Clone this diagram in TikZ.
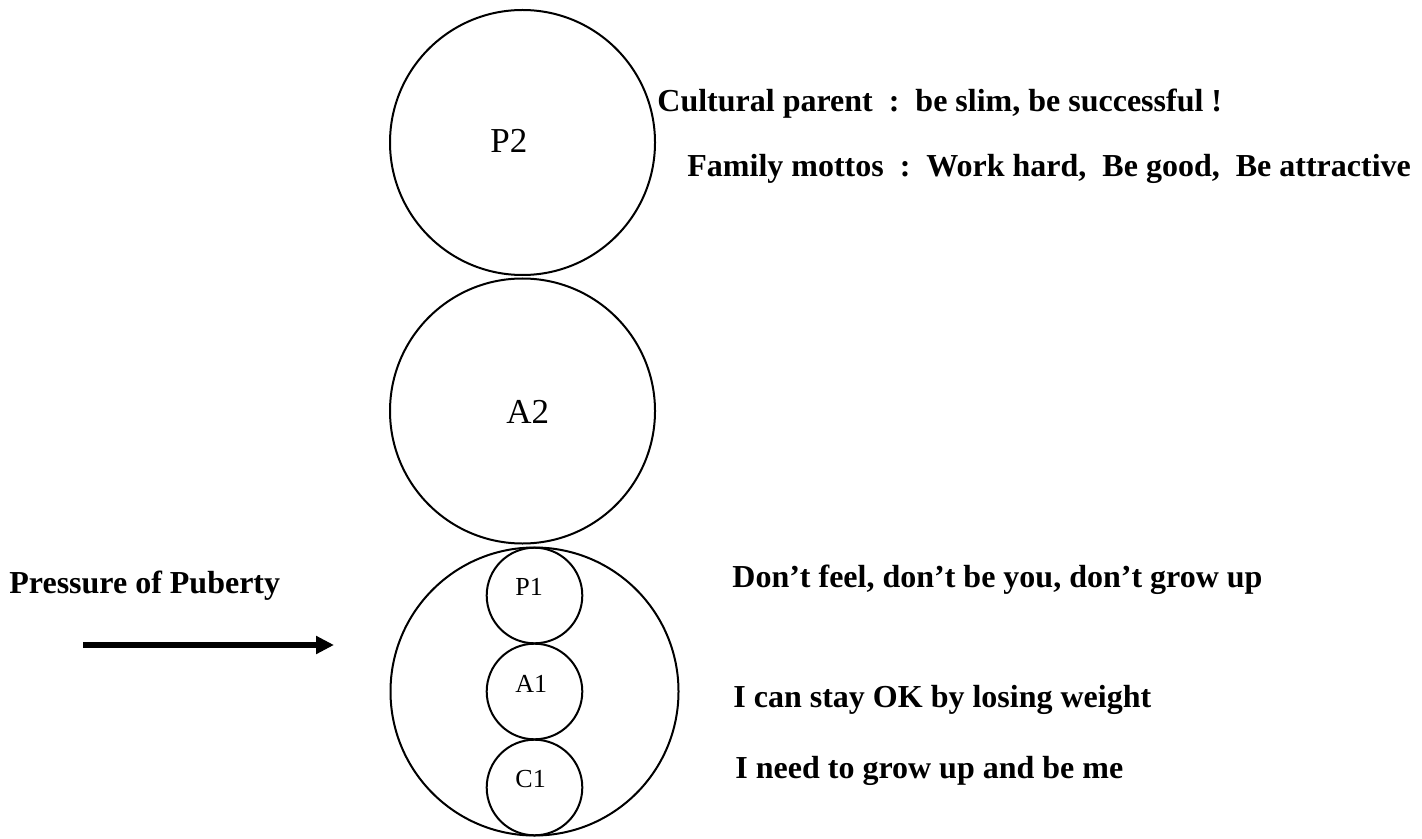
\documentclass[tikz,border=0pt]{standalone}
\usepackage{fontspec}
\setmainfont{Liberation Serif}
\usetikzlibrary{arrows.meta}
\begin{document}
\begin{tikzpicture}[x=0.5pt,y=-0.5pt,
  ring/.style={circle,draw,line width=1pt,inner sep=0pt},
  bigring/.style={ring,minimum size=132.5pt},
  outerring/.style={ring,minimum size=144pt},
  smallring/.style={ring,minimum size=47.8pt},
  txt/.style={inner sep=0pt,anchor=base west,font=\fontsize{16pt}{19pt}\selectfont\bfseries},
  biglbl/.style={inner sep=0pt,anchor=base west,font=\fontsize{17.5pt}{20pt}\selectfont},
  smalllbl/.style={inner sep=0pt,anchor=base west,font=\fontsize{13pt}{15pt}\selectfont},
  pusharrow/.style={line width=3pt,-{Triangle[length=9pt,width=8.6pt]}}
]
\useasboundingbox (0,0) rectangle (1422,839);

% circles
\node[bigring] (p2) at (522.5,142.5) {};
\node[bigring] (a2) at (522.5,411) {};
\node[outerring] (child) at (534.5,691.5) {};
\node[smallring] (p1) at (534.5,595.5) {};
\node[smallring] (a1) at (534.5,691.5) {};
\node[smallring] (c1) at (534.5,787.5) {};

% circle labels
\node[biglbl] (p2t) at (490,153) {P2};
\node[biglbl] (a2t) at (506,423) {A2};
\node[smalllbl] (p1t) at (515,595) {P1};
\node[smalllbl] (a1t) at (515,692) {A1};
\node[smalllbl] (c1t) at (515,787) {C1};

% texts
\node[txt] (cult) at (657,112) {Cultural parent\ \ :\ \ be slim, be successful !};
\node[txt] (fam) at (687,177) {Family mottos\ \ :\ \ Work hard,\ \ Be good,\ \ Be attractive};
\node[txt] (press) at (9,593) {Pressure of Puberty};
\node[txt] (dont) at (732,587) {Don’t feel, don’t be you, don’t grow up};
\node[txt] (stay) at (733,707) {I can stay OK by losing weight};
\node[txt] (need) at (735,778) {I need to grow up and be me};

% arrow
\coordinate (as) at (83,645);
\coordinate (ae) at (334,645);
\draw[pusharrow] (as) -- (ae);
\end{tikzpicture}
\end{document}
